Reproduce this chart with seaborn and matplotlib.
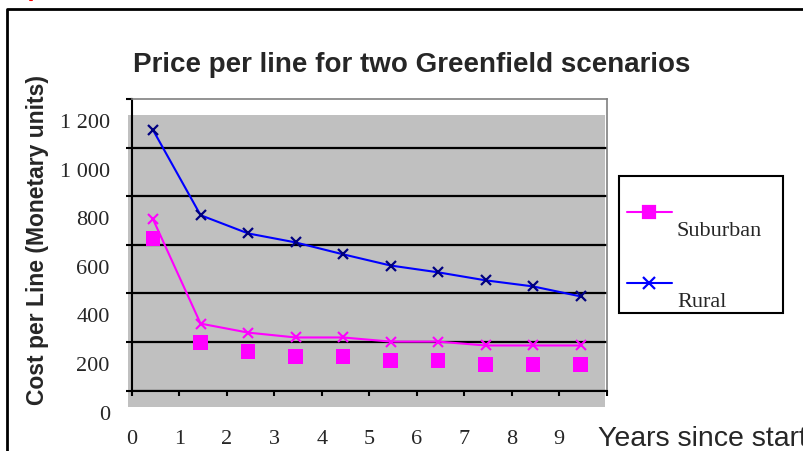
import numpy as np
import pandas as pd
import seaborn as sns
import matplotlib
matplotlib.use("Agg")
import matplotlib.pyplot as plt
from matplotlib.transforms import ScaledTranslation
from matplotlib.patches import Rectangle
from matplotlib.lines import Line2D

# ---- data -------------------------------------------------------------
years = list(range(1, 11))
rural = [1072, 722, 647, 610, 561, 515, 487, 454, 429, 388]
suburban = [705, 276, 239, 219, 219, 202, 202, 186, 186, 186]

y_ticks = [0, 200, 400, 600, 800, 1000, 1200]
y_tick_labels = ["0", "200", "400", "600", "800", "1 000", "1 200"]
x_ticks = list(range(0, 11))
x_tick_labels = ["0", "1", "2", "3", "4", "5", "6", "7", "8", "9", ""]

title = "Price per line for two Greenfield scenarios"
y_title = "Cost per Line (Monetary units)"
x_title = "Years since start"

MAGENTA = "#FF00FF"
BLUE = "#0000FF"
NAVY = "#000080"
SANS = ["Liberation Sans", "DejaVu Sans"]
SERIF = ["Liberation Serif", "DejaVu Serif"]

df = pd.DataFrame({
    "year": years,
    "pos": [y - 0.55 for y in years],
    "Rural": rural,
    "Suburban": suburban,
})

sns.set_style("white")
plt.rcParams["font.family"] = SERIF

W, H = 804, 452
fig = plt.figure(figsize=(W / 100, H / 100), dpi=100)
ax = fig.add_axes([131.7 / W, 1 - 391.7 / H, 475 / W, 291.7 / H])
ax.set_facecolor("white")

# grey plot-area fill, sitting slightly lower than the axes frame
ax.add_patch(Rectangle((-0.0078, -0.056), 1.0043, 1.001, transform=ax.transAxes,
                       facecolor="#C0C0C0", edgecolor="none", zorder=0.1,
                       clip_on=False))

# series
sns.lineplot(data=df, x="pos", y="Rural", color=BLUE, lw=1.5, marker="x",
             markersize=7.5, markeredgewidth=1.6, markeredgecolor=NAVY, ax=ax,
             zorder=3)
sns.lineplot(data=df, x="pos", y="Suburban", color=MAGENTA, lw=1.5, marker="x",
             markersize=7, markeredgewidth=1.5, markeredgecolor=MAGENTA, ax=ax,
             zorder=3)
sns.scatterplot(data=df, x="pos", y="Suburban", marker="s", s=110,
                color=MAGENTA, edgecolor="none", ax=ax, zorder=4)
squares = ax.collections[-1]
squares.set_offset_transform(ax.transData +
                             ScaledTranslation(0, -19 / 100, fig.dpi_scale_trans))

# axes
ax.set_xlim(0, 10)
ax.set_ylim(0, 1200)
ax.set_xlabel("")
ax.set_ylabel("")
ax.set_xticks(x_ticks)
ax.set_xticklabels(x_tick_labels)
ax.set_yticks(y_ticks)
ax.set_yticklabels(y_tick_labels)
ax.tick_params(axis="x", direction="out", length=3.8, width=1.5, color="black",
               pad=24, labelsize=16, bottom=True)
ax.tick_params(axis="y", direction="out", length=4.3, width=1.5, color="black",
               pad=11.5, labelsize=16, left=True)
for lab in ax.get_yticklabels():
    lab.set_transform(lab.get_transform() +
                      ScaledTranslation(0, -0.21, fig.dpi_scale_trans))

ax.set_axisbelow(True)
ax.yaxis.grid(True, color="black", lw=1.6)
ax.xaxis.grid(False)
gl = ax.get_ygridlines()
gl[-1].set_visible(False)

for side in ("left", "bottom"):
    ax.spines[side].set_color("black")
    ax.spines[side].set_linewidth(1.5)
for side in ("top", "right"):
    ax.spines[side].set_color("#808080")
    ax.spines[side].set_linewidth(1.2)
    ax.spines[side].set_visible(True)

# titles
fig.text(412 / W, 1 - 72 / H, title, ha="center", va="baseline",
         family=SANS, weight="bold", size=20)
fig.text(38 / W, 1 - 240 / H, y_title, ha="center", va="center", rotation=90,
         family=SANS, weight="bold", size=16.5)
fig.text(598 / W, 1 - 446 / H, x_title, ha="left", va="baseline",
         family=SANS, size=20.5)

# legend box
fig.add_artist(Rectangle((619 / W, 1 - 314 / H), (783 - 619) / W, (314 - 177) / H,
                         transform=fig.transFigure, facecolor="white",
                         edgecolor="black", lw=1.5))
for y_line, y_text, color, marker, ms, label in [
        (213, 236, MAGENTA, "s", 8.5, "Suburban"),
        (284, 307, BLUE, "x", 8, "Rural")]:
    fig.add_artist(Line2D([627 / W, 672 / W], [1 - y_line / H] * 2,
                          transform=fig.transFigure, color=color, lw=1.5))
    fig.add_artist(Line2D([649.5 / W], [1 - y_line / H], transform=fig.transFigure,
                          marker=marker, ms=ms, mew=1.6, color=color,
                          linestyle="none"))
    fig.text(677 / W, 1 - y_text / H, label, ha="left", va="baseline",
             family=SERIF, size=16)

# outer chart frame and corner mark
fig.add_artist(Line2D([7 / W, 7 / W, 1.0], [0, 1 - 10 / H, 1 - 10 / H],
                      transform=fig.transFigure, color="black", lw=2))
fig.add_artist(Line2D([30 / W, 32 / W], [1 - 0.8 / H] * 2,
                      transform=fig.transFigure, color="red", lw=1.5))

fig.savefig("out.png", dpi=100)
